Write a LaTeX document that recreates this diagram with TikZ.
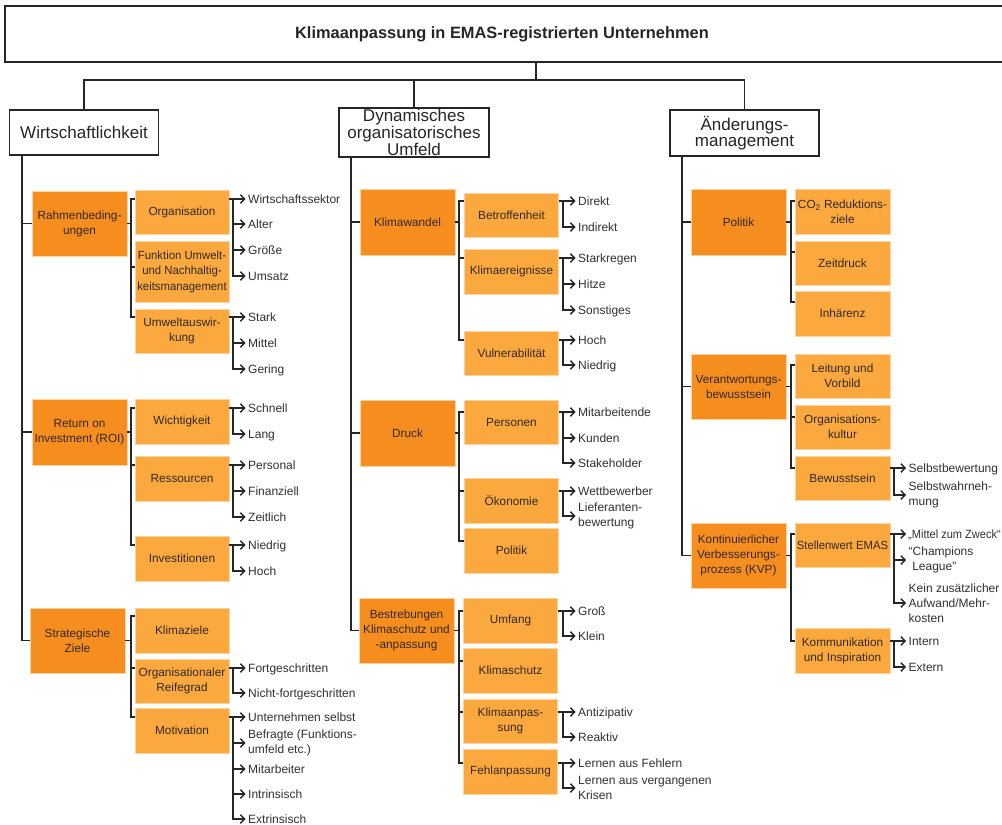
\documentclass[tikz,border=0pt]{standalone}
\usepackage{fontspec}
\setmainfont{Liberation Sans}
\newfontfamily\narrowfont[FakeStretch=0.92]{Liberation Sans}
\newfontfamily\slimfont[FakeStretch=0.96]{Liberation Sans}
\usetikzlibrary{arrows.meta,calc}
\definecolor{porange}{HTML}{F68D1F}
\definecolor{corange}{HTML}{FBA93F}
\definecolor{edgeor}{HTML}{FDD3A4}
\definecolor{ink}{HTML}{262626}
\definecolor{boxtext}{HTML}{33291F}
\definecolor{leaftext}{HTML}{303030}
\tikzset{
 titlebox/.style={draw=ink, line width=1.5pt, fill=white, minimum width=1000pt, minimum height=56pt, inner sep=0pt, font=\fontsize{16.4}{19}\selectfont\bfseries, text=ink},
 headbox/.style={draw=ink, line width=1.4pt, fill=white, inner sep=0pt, align=center, font=\fontsize{17}{14.5}\selectfont, text=ink},
 pbox/.style={fill=porange, draw=edgeor, line width=0.6pt, minimum width=95pt, minimum height=65pt, inner sep=0pt, align=center, font=\fontsize{11.8}{15}\selectfont, text=boxtext},
 cbox/.style={fill=corange, draw=edgeor, line width=0.6pt, minimum width=94pt, minimum height=44pt, inner sep=0pt, align=center, font=\fontsize{11.8}{15}\selectfont, text=boxtext},
 leaf/.style={anchor=west, inner xsep=2.5pt, inner ysep=0pt, text height=10pt, text depth=2pt, font=\fontsize{12}{15}\selectfont, text=leaftext},
 leafm/.style={anchor=west, inner xsep=2.5pt, inner ysep=0pt, align=left, font=\fontsize{12}{15}\selectfont, text=leaftext},
 conn/.style={draw=ink, line width=1.5pt},
 arr/.style={conn, -{Straight Barb[length=4pt,width=8.5pt]}},
}
\begin{document}
\begin{tikzpicture}[x=1pt,y=-1pt]
\useasboundingbox (0,0) rectangle (1002,825);
% ---------- title and headers
\node[titlebox] (title) at (505,34) {\hspace*{-6pt}Klimaanpassung in EMAS-registrierten Unternehmen};
\node[headbox, minimum width=149pt, minimum height=45pt] (wirt) at (84,132.5) {Wirtschaftlichkeit};
\node[headbox, minimum width=150pt, minimum height=49pt] (dyn) at (414,132.5) {Dynamisches\\organisatorisches\\Umfeld};
\node[headbox, minimum width=149pt, minimum height=46pt] (aend) at (744.5,133) {Änderungs-\\management};
\coordinate (tc) at (536,80);
\draw[conn] (title.south -| tc) -- (tc);
\draw[conn] (wirt.north) |- (tc) -| (aend.north);
\draw[conn] (dyn.north) -- (dyn.north |- tc);
\coordinate (lsp) at (22,0);
\coordinate (msp) at (351,0);
\coordinate (rsp) at (682,0);
\coordinate (lvx) at (233,0);
\coordinate (mvx) at (563,0);
\coordinate (rvx) at (894,0);

% ---------- left column boxes
\node[pbox] (rb) at (79.5,223.5) {Rahmenbeding-\\ungen};
\node[pbox, minimum height=66pt] (roi) at (79.5,432) {Return on\\Investment (ROI)};
\node[pbox] (sz) at (77.5,640.5) {Strategische\\Ziele};
\node[cbox] (org) at (182,212.5) {Organisation};
\node[cbox, minimum height=61pt, font=\fontsize{11.8}{15.5}\slimfont] (funk) at (182,271.5) {Funktion Umwelt-\\und Nachhaltig-\\keitsmanagement};
\node[cbox] (uwa) at (182,331) {Umweltauswir-\\kung};
\node[cbox, minimum height=45pt] (wicht) at (182,421.5) {Wichtigkeit};
\node[cbox, minimum height=45pt] (ress) at (182,478.5) {Ressourcen};
\node[cbox, minimum height=45pt] (inv) at (182,558.5) {Investitionen};
\node[cbox, minimum height=45pt] (kz) at (182,630.5) {Klimaziele};
\node[cbox] (reif) at (182,681) {Organisationaler\\Reifegrad};
\node[cbox, minimum height=45pt] (mot) at (182,730.5) {Motivation};

% left leaves
\node[leaf] (l-ws) at (245.5,199) {Wirtschaftssektor};
\node[leaf] (l-alt) at (245.5,224) {Alter};
\node[leaf] (l-gr) at (245.5,250) {Größe};
\node[leaf] (l-ums) at (245.5,276) {Umsatz};
\node[leaf] (l-st) at (245.5,317) {Stark};
\node[leaf] (l-mi) at (245.5,343) {Mittel};
\node[leaf] (l-ge) at (245.5,369) {Gering};
\node[leaf] (l-sch) at (245.5,408) {Schnell};
\node[leaf] (l-la) at (245.5,434) {Lang};
\node[leaf] (l-pe) at (245.5,465) {Personal};
\node[leaf] (l-fi) at (245.5,491) {Finanziell};
\node[leaf] (l-ze) at (245.5,517) {Zeitlich};
\node[leaf] (l-ni) at (245.5,545) {Niedrig};
\node[leaf] (l-ho) at (245.5,571) {Hoch};
\node[leaf] (l-fo) at (245.5,668) {Fortgeschritten};
\node[leaf] (l-nf) at (245.5,693) {Nicht-fortgeschritten};
\node[leaf] (l-us) at (245.5,717) {Unternehmen selbst};
\node[leafm] (l-bf) at (245.5,743) {Befragte (Funktions-\\umfeld etc.)};
\node[leaf] (l-ma) at (245.5,769) {Mitarbeiter};
\node[leaf] (l-in) at (245.5,794) {Intrinsisch};
\node[leaf] (l-ex) at (245.5,819) {Extrinsisch};

% left spine
\draw[conn] (wirt.south -| lsp) -- (lsp |- sz.west) -- (sz.west);
\draw[conn] (lsp |- rb.west) -- (rb.west);
\draw[conn] (lsp |- roi.west) -- (roi.west);
% left ticks
\coordinate (org-t) at (131,199);
\coordinate (funk-t) at (131,267);
\coordinate (uwa-t) at (131,317);
\coordinate (wicht-t) at (131,408);
\coordinate (ress-t) at (131,465);
\coordinate (inv-t) at (131,545);
\coordinate (kz-t) at (131,616);
\coordinate (reif-t) at (131,668);
\coordinate (mot-t) at (131,717);
\draw[conn] (rb.east) -- (rb.east -| org-t);
\draw[conn] (org-t -| org.west) -- (org-t) -- (uwa-t) -- (uwa-t -| uwa.west);
\draw[conn] (funk-t) -- (funk-t -| funk.west);
\draw[conn] (roi.east) -- (roi.east -| wicht-t);
\draw[conn] (wicht-t -| wicht.west) -- (wicht-t) -- (inv-t) -- (inv-t -| inv.west);
\draw[conn] (ress-t) -- (ress-t -| ress.west);
\draw[conn] (sz.east) -- (sz.east -| kz-t);
\draw[conn] (kz-t -| kz.west) -- (kz-t) -- (mot-t) -- (mot-t -| mot.west);
\draw[conn] (reif-t) -- (reif-t -| reif.west);
% left leaf connectors
\draw[arr] (org-t -| org.east) -- (l-ws.west);
\draw[arr] (l-ws.west -| lvx) -- (l-ums.west -| lvx) -- (l-ums.west);
\foreach \n in {l-alt,l-gr} \draw[arr] (\n.west -| lvx) -- (\n.west);
\draw[arr] (uwa-t -| uwa.east) -- (l-st.west);
\draw[arr] (l-st.west -| lvx) -- (l-ge.west -| lvx) -- (l-ge.west);
\draw[arr] (l-mi.west -| lvx) -- (l-mi.west);
\draw[arr] (wicht-t -| wicht.east) -- (l-sch.west);
\draw[arr] (l-sch.west -| lvx) -- (l-la.west -| lvx) -- (l-la.west);
\draw[arr] (ress-t -| ress.east) -- (l-pe.west);
\draw[arr] (l-pe.west -| lvx) -- (l-ze.west -| lvx) -- (l-ze.west);
\draw[arr] (l-fi.west -| lvx) -- (l-fi.west);
\draw[arr] (inv-t -| inv.east) -- (l-ni.west);
\draw[arr] (l-ni.west -| lvx) -- (l-ho.west -| lvx) -- (l-ho.west);
\draw[arr] (reif-t -| reif.east) -- (l-fo.west);
\draw[arr] (l-fo.west -| lvx) -- (l-nf.west -| lvx) -- (l-nf.west);
\draw[arr] (mot-t -| mot.east) -- (l-us.west);
\draw[arr] (l-us.west -| lvx) -- (l-ex.west -| lvx) -- (l-ex.west);
\foreach \n in {l-bf,l-ma,l-in} \draw[arr] (\n.west -| lvx) -- (\n.west);

% ---------- middle column boxes
\node[pbox, minimum height=66pt] (kw) at (407.5,222) {Klimawandel};
\node[pbox, minimum height=66pt] (dr) at (407.5,433) {Druck};
\node[pbox] (bs) at (406.5,630.5) {Bestrebungen\\Klimaschutz und\\-anpassung};
\node[cbox] (betr) at (511.5,215) {Betroffenheit};
\node[cbox, minimum height=45pt] (kerg) at (511.5,271.5) {Klimaereignisse};
\node[cbox] (vuln) at (511.5,353) {Vulnerabilität};
\node[cbox] (pers) at (511.5,422) {Personen};
\node[cbox, minimum height=45pt] (oek) at (511.5,500.5) {Ökonomie};
\node[cbox, minimum height=45pt] (pol2) at (511.5,550.5) {Politik};
\node[cbox, minimum height=45pt] (umf) at (510.5,620.5) {Umfang};
\node[cbox, minimum height=45pt] (ks) at (510.5,670.5) {Klimaschutz};
\node[cbox] (ka) at (510.5,721) {Klimaanpas-\\sung};
\node[cbox, minimum height=45pt] (fa) at (510.5,771.5) {Fehlanpassung};

% middle leaves
\node[leaf] (m-di) at (575.5,201) {Direkt};
\node[leaf] (m-id) at (575.5,227) {Indirekt};
\node[leaf] (m-sr) at (575.5,258) {Starkregen};
\node[leaf] (m-hi) at (575.5,284) {Hitze};
\node[leaf] (m-so) at (575.5,310) {Sonstiges};
\node[leaf] (m-ho) at (575.5,340) {Hoch};
\node[leaf] (m-ni) at (575.5,365) {Niedrig};
\node[leaf] (m-ma) at (575.5,412) {Mitarbeitende};
\node[leaf] (m-ku) at (575.5,438) {Kunden};
\node[leaf] (m-sh) at (575.5,463) {Stakeholder};
\node[leaf] (m-wb) at (575.5,491) {Wettbewerber};
\node[leafm] (m-lb) at (575.5,516) {Lieferanten-\\bewertung};
\node[leaf] (m-gr) at (575.5,611) {Groß};
\node[leaf] (m-kl) at (575.5,636) {Klein};
\node[leaf] (m-an) at (575.5,712) {Antizipativ};
\node[leaf] (m-re) at (575.5,737) {Reaktiv};
\node[leaf] (m-lf) at (575.5,763) {Lernen aus Fehlern};
\node[leafm] (m-lk) at (575.5,788) {Lernen aus vergangenen\\Krisen};

% middle spine
\draw[conn] (dyn.south -| msp) -- (msp |- bs.west) -- (bs.west);
\draw[conn] (msp |- kw.west) -- (kw.west);
\draw[conn] (msp |- dr.west) -- (dr.west);
\coordinate (betr-t) at (459,201);
\coordinate (kerg-t) at (459,258);
\coordinate (vuln-t) at (459,340);
\coordinate (pers-t) at (459,412);
\coordinate (oek-t) at (459,491);
\coordinate (pol2-t) at (459,541);
\coordinate (umf-t) at (459,611);
\coordinate (ks-t) at (459,661);
\coordinate (ka-t) at (459,712);
\coordinate (fa-t) at (459,763);
\draw[conn] (kw.east) -- (kw.east -| betr-t);
\draw[conn] (betr-t -| betr.west) -- (betr-t) -- (vuln-t) -- (vuln-t -| vuln.west);
\draw[conn] (kerg-t) -- (kerg-t -| kerg.west);
\draw[conn] (dr.east) -- (dr.east -| pers-t);
\draw[conn] (pers-t -| pers.west) -- (pers-t) -- (pol2-t) -- (pol2-t -| pol2.west);
\draw[conn] (oek-t) -- (oek-t -| oek.west);
\draw[conn] (bs.east) -- (bs.east -| umf-t);
\draw[conn] (umf-t -| umf.west) -- (umf-t) -- (fa-t) -- (fa-t -| fa.west);
\draw[conn] (ks-t) -- (ks-t -| ks.west);
\draw[conn] (ka-t) -- (ka-t -| ka.west);
% middle leaf connectors
\draw[arr] (betr-t -| betr.east) -- (m-di.west);
\draw[arr] (m-di.west -| mvx) -- (m-id.west -| mvx) -- (m-id.west);
\draw[arr] (kerg-t -| kerg.east) -- (m-sr.west);
\draw[arr] (m-sr.west -| mvx) -- (m-so.west -| mvx) -- (m-so.west);
\draw[arr] (m-hi.west -| mvx) -- (m-hi.west);
\draw[arr] (vuln-t -| vuln.east) -- (m-ho.west);
\draw[arr] (m-ho.west -| mvx) -- (m-ni.west -| mvx) -- (m-ni.west);
\draw[arr] (pers-t -| pers.east) -- (m-ma.west);
\draw[arr] (m-ma.west -| mvx) -- (m-sh.west -| mvx) -- (m-sh.west);
\draw[arr] (m-ku.west -| mvx) -- (m-ku.west);
\draw[arr] (oek-t -| oek.east) -- (m-wb.west);
\draw[arr] (m-wb.west -| mvx) -- (m-lb.west -| mvx) -- (m-lb.west);
\draw[arr] (umf-t -| umf.east) -- (m-gr.west);
\draw[arr] (m-gr.west -| mvx) -- (m-kl.west -| mvx) -- (m-kl.west);
\draw[arr] (ka-t -| ka.east) -- (m-an.west);
\draw[arr] (m-an.west -| mvx) -- (m-re.west -| mvx) -- (m-re.west);
\draw[arr] (fa-t -| fa.east) -- (m-lf.west);
\draw[arr] (m-lf.west -| mvx) -- (m-lk.west -| mvx) -- (m-lk.west);

% ---------- right column boxes
\node[pbox, minimum height=66pt] (pol) at (738.5,222) {Politik};
\node[pbox] (ver) at (738.5,386.5) {Verantwortungs-\\bewusstsein};
\node[pbox] (kvp) at (738.5,555.5) {Kontinuierlicher\\Verbesserungs-\\prozess (KVP)};
\node[cbox, minimum width=95pt, minimum height=45pt] (co2) at (842.5,211.5) {CO\textsubscript{2} Reduktions-\\ziele};
\node[cbox, minimum width=95pt] (zd) at (842.5,263) {Zeitdruck};
\node[cbox, minimum width=95pt, minimum height=45pt] (inh) at (842.5,313.5) {Inhärenz};
\node[cbox, minimum width=95pt] (leit) at (842.5,376) {Leitung und\\Vorbild};
\node[cbox, minimum width=95pt] (okul) at (842.5,427) {Organisations-\\kultur};
\node[cbox, minimum width=95pt] (bew) at (842.5,478) {Bewusstsein};
\node[cbox, minimum width=95pt, font=\fontsize{11.8}{15}\slimfont] (stw) at (842.5,545) {Stellenwert EMAS};
\node[cbox, minimum width=95pt, minimum height=45pt] (komm) at (842.5,650.5) {Kommunikation\\und Inspiration};

% right leaves
\node[leaf] (r-sb) at (906,468) {Selbstbewertung};
\node[leafm] (r-sw) at (906,495) {Selbstwahrneh-\\mung};
\node[leaf, font=\fontsize{12}{15}\narrowfont, inner xsep=2pt] (r-mz) at (906,534) {„Mittel zum Zweck“};
\node[leafm] (r-cl) at (906,560) {“Champions\\\hspace*{0.3em}League”};
\node[leafm] (r-ka) at (906,603) {Kein zusätzlicher\\Aufwand/Mehr-\\kosten};
\node[leaf] (r-in) at (906,641) {Intern};
\node[leaf] (r-ex) at (906,667) {Extern};

% right spine
\draw[conn] (aend.south -| rsp) -- (rsp |- kvp.west) -- (kvp.west);
\draw[conn] (rsp |- pol.west) -- (pol.west);
\draw[conn] (rsp |- ver.west) -- (ver.west);
\coordinate (co2-t) at (791,201);
\coordinate (zd-t) at (791,252);
\coordinate (inh-t) at (791,302);
\coordinate (leit-t) at (791,365);
\coordinate (okul-t) at (791,417);
\coordinate (bew-t) at (791,468);
\coordinate (stw-t) at (791,534);
\coordinate (komm-t) at (791,641);
\draw[conn] (pol.east) -- (pol.east -| co2-t);
\draw[conn] (co2-t -| co2.west) -- (co2-t) -- (inh-t) -- (inh-t -| inh.west);
\draw[conn] (zd-t) -- (zd-t -| zd.west);
\draw[conn] (ver.east) -- (ver.east -| leit-t);
\draw[conn] (leit-t -| leit.west) -- (leit-t) -- (bew-t) -- (bew-t -| bew.west);
\draw[conn] (okul-t) -- (okul-t -| okul.west);
\draw[conn] (kvp.east) -- (kvp.east -| stw-t);
\draw[conn] (stw-t -| stw.west) -- (stw-t) -- (komm-t) -- (komm-t -| komm.west);
% right leaf connectors
\draw[arr] (bew-t -| bew.east) -- (r-sb.west);
\draw[arr] (r-sb.west -| rvx) -- (r-sw.west -| rvx) -- (r-sw.west);
\draw[arr] (stw-t -| stw.east) -- (r-mz.west);
\draw[arr] (r-mz.west -| rvx) -- (r-ka.west -| rvx) -- (r-ka.west);
\draw[arr] (r-cl.west -| rvx) -- (r-cl.west);
\draw[arr] (komm-t -| komm.east) -- (r-in.west);
\draw[arr] (r-in.west -| rvx) -- (r-ex.west -| rvx) -- (r-ex.west);
\end{tikzpicture}
\end{document}
